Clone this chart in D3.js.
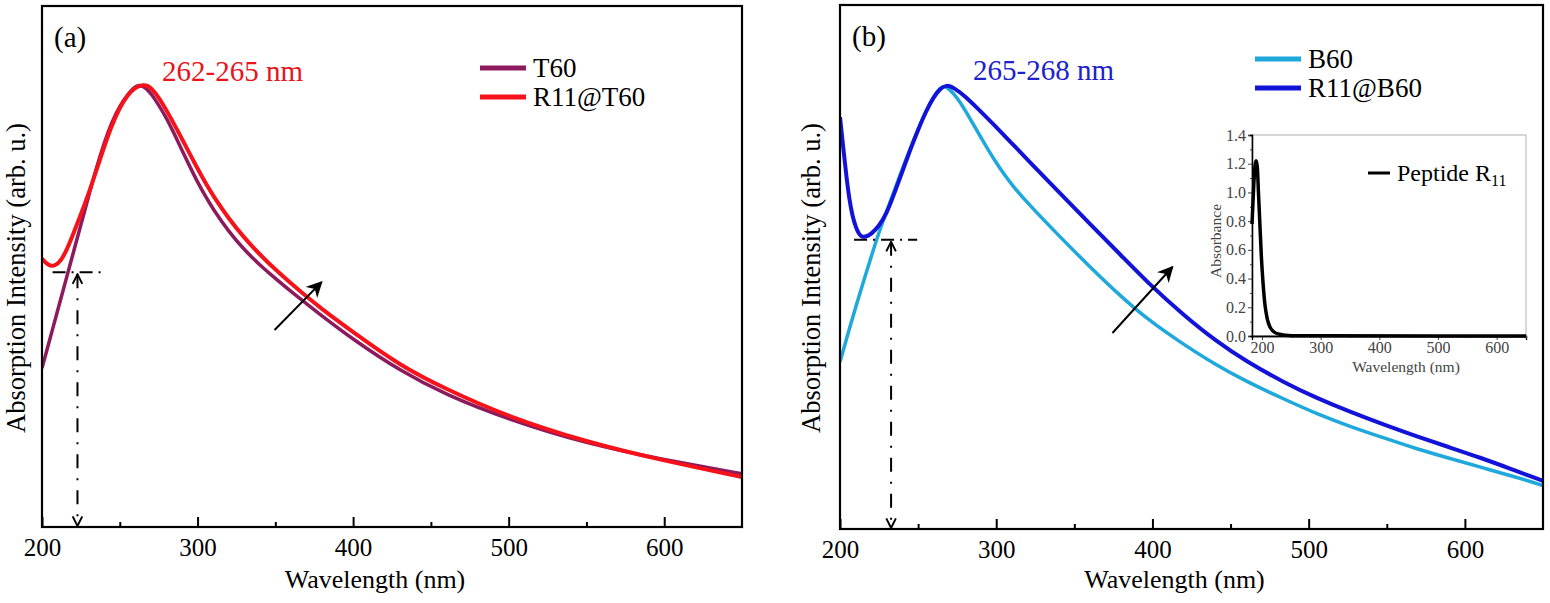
<!DOCTYPE html>
<html>
<head>
<meta charset="utf-8">
<script src="https://cdn.jsdelivr.net/npm/d3@7/dist/d3.min.js"></script>
<style>
  body { margin: 0; background: #fff; }
</style>
</head>
<body>
<svg id="chart" width="1550" height="603"></svg>
<script>
// ---- panel (a): wavelength (nm), intensity (arb. u., 0..1 of frame) ----
const t60 = [[200,.305],[205,.36],[210,.415],[215,.47],[220,.525],[225,.58],[230,.635],[235,.69],[240,.738],
  [245,.778],[250,.808],[255,.83],[259,.843],[262,.849],[266,.845],[270,.833],[275,.81],[280,.785],[285,.755],
  [290,.723],[295,.692],[300,.662],[305,.635],[310,.61],[320,.567],[330,.532],[340,.503],[350,.477],[360,.452],
  [380,.405],[400,.36],[430,.30],[460,.253],[500,.206],[550,.160],[600,.129],[650,.102]];
const r11t60 = [[200,.515],[204,.502],[208,.50],[212,.51],[216,.532],[220,.562],[225,.60],[230,.64],[235,.685],
  [240,.73],[245,.772],[250,.805],[255,.829],[260,.844],[265,.849],[268,.847],[271,.84],[275,.825],[280,.80],
  [285,.773],[290,.745],[295,.716],[300,.688],[305,.661],[310,.636],[320,.592],[330,.555],[340,.523],[350,.494],
  [366,.452],[380,.418],[400,.374],[430,.31],[460,.264],[500,.211],[550,.163],[600,.127],[650,.096]];

// ---- panel (b) ----
const b60 = [[200,.319],[205,.372],[210,.423],[215,.472],[220,.52],[225,.567],[230,.607],[235,.648],[240,.688],
  [245,.727],[250,.763],[255,.797],[260,.826],[265.4,.848],[270,.84],[275,.823],[280,.80],[285,.774],[290,.748],
  [295,.723],[300,.699],[305,.677],[310,.657],[320,.622],[340,.56],[360,.50],[380,.443],[397,.40],[415,.362],
  [441,.312],[460,.282],[484,.248],[505,.22],[526,.196],[550,.172],[569,.153],[590,.135],[611,.117],[633,.099],[650,.083]];
const r11b60 = [[200,.786],[202,.73],[204,.675],[206,.628],[208,.597],[210,.577],[212,.563],[214,.557],[217,.558],
  [220,.563],[225,.578],[230,.603],[235,.642],[240,.683],[245,.724],[250,.762],[255,.797],[260,.825],[264,.840],
  [268,.848],[273,.842],[280,.826],[289,.80],[300,.767],[310,.736],[320,.705],[340,.643],[360,.582],[380,.522],
  [397,.47],[420,.408],[441,.358],[460,.32],[484,.28],[505,.25],[526,.224],[550,.197],[569,.177],[590,.156],
  [611,.135],[630,.114],[650,.092]];

// ---- inset: peptide R11 absorbance ----
const peptide = [[183,.78],[186,1.05],[188,1.18],[190,1.22],[192,1.18],[194,1.0],[196,.82],[199,.55],[202,.36],
  [205,.22],[209,.12],[214,.06],[220,.03],[230,.012],[245,.004],[260,.002],[300,.001],[650,0]];

const majorTicks = [200, 300, 400, 500, 600];
const minorTicks = [250, 350, 450, 550];
const insetYTicks = [0, 0.2, 0.4, 0.6, 0.8, 1.0, 1.2, 1.4];
const insetYMinor = [0.1, 0.3, 0.5, 0.7, 0.9, 1.1, 1.3];

const FONT = '"Liberation Serif", "Times New Roman", Times, serif';

const svg = d3.select('#chart').attr('font-family', FONT);
const defs = svg.append('defs');

defs.append('marker').attr('id', 'headBig')
  .attr('viewBox', '0 0 10 10').attr('refX', 9).attr('refY', 5)
  .attr('markerWidth', 16).attr('markerHeight', 16).attr('markerUnits', 'userSpaceOnUse')
  .attr('orient', 'auto')
  .append('path').attr('d', 'M0,0 L10,5 L0,10 L3,5 z').attr('fill', '#000');
defs.append('marker').attr('id', 'headOpen')
  .attr('viewBox', '0 0 10 10').attr('refX', 9).attr('refY', 5)
  .attr('markerWidth', 12).attr('markerHeight', 12).attr('markerUnits', 'userSpaceOnUse')
  .attr('orient', 'auto-start-reverse')
  .append('path').attr('d', 'M1,1 L9,5 L1,9').attr('fill', 'none').attr('stroke', '#000').attr('stroke-width', 1.6);

function drawPanel(p) {
  const x = d3.scaleLinear().domain([200, 650]).range([p.left, p.right]);
  const y = d3.scaleLinear().domain([0, 1]).range([p.bottom, p.top]);
  const g = svg.append('g');

  g.append('clipPath').attr('id', 'clip-' + p.id)
    .append('rect').attr('x', p.left).attr('y', p.top)
    .attr('width', p.right - p.left).attr('height', p.bottom - p.top);

  // ticks point inward
  const xAxis = g.append('g').attr('transform', `translate(0,${p.bottom})`)
    .call(d3.axisBottom(x).tickValues(majorTicks).tickSize(-10).tickPadding(11).tickFormat(d3.format('d')));
  xAxis.attr('font-family', FONT);
  xAxis.select('.domain').remove();
  xAxis.selectAll('line').attr('stroke-width', 2);
  xAxis.selectAll('text').attr('font-size', 25).attr('fill', '#000');
  const xMinor = g.append('g').attr('transform', `translate(0,${p.bottom})`)
    .call(d3.axisBottom(x).tickValues(minorTicks).tickSize(-5).tickFormat(''));
  xMinor.select('.domain').remove();
  xMinor.selectAll('line').attr('stroke-width', 2);

  const line = d3.line().x(d => x(d[0])).y(d => y(d[1])).curve(d3.curveBasis);
  const lines = g.append('g').attr('clip-path', `url(#clip-${p.id})`);
  p.series.forEach(s => {
    lines.append('path').datum(s.data).attr('d', line)
      .attr('fill', 'none').attr('stroke', s.color).attr('stroke-width', s.width)
      .attr('stroke-linejoin', 'round');
  });

  // frame
  g.append('rect').attr('x', p.left).attr('y', p.top)
    .attr('width', p.right - p.left).attr('height', p.bottom - p.top)
    .attr('fill', 'none').attr('stroke', '#000').attr('stroke-width', 2.2);

  // dash-dot guide lines
  g.append('line')
    .attr('x1', x(p.guide.h0)).attr('x2', x(p.guide.h1))
    .attr('y1', y(p.guide.v)).attr('y2', y(p.guide.v))
    .attr('stroke', '#000').attr('stroke-width', 2).attr('stroke-dasharray', '13,6,2,6');
  g.append('line')
    .attr('x1', x(p.guide.w)).attr('x2', x(p.guide.w))
    .attr('y1', y(p.guide.v) + 2).attr('y2', y(0) - 1)
    .attr('stroke', '#000').attr('stroke-width', 2).attr('stroke-dasharray', '14,10,2,10')
    .attr('marker-start', 'url(#headOpen)').attr('marker-end', 'url(#headOpen)');

  // diagonal arrow
  g.append('line')
    .attr('x1', x(p.arrow[0][0])).attr('y1', y(p.arrow[0][1]))
    .attr('x2', x(p.arrow[1][0])).attr('y2', y(p.arrow[1][1]))
    .attr('stroke', '#000').attr('stroke-width', 2).attr('marker-end', 'url(#headBig)');

  // labels
  g.append('text').attr('x', p.left + 12).attr('y', p.top + 41)
    .attr('font-size', 29).text(p.tag);
  g.append('text').attr('x', p.peak.x).attr('y', p.top + 75)
    .attr('font-size', 29).attr('fill', p.peak.color).text(p.peak.text);
  g.append('text').attr('x', (p.left + p.right) / 2 - 17).attr('y', 588)
    .attr('text-anchor', 'middle').attr('font-size', 26).text('Wavelength (nm)');
  g.append('text')
    .attr('transform', `translate(${p.left - p.ylabOff},278) rotate(-90)`)
    .attr('text-anchor', 'middle').attr('font-size', 26.5).text('Absorption Intensity (arb. u.)');

  // legend
  p.series.forEach((s, i) => {
    const ly = p.legend.y + i * 29;
    g.append('line').attr('x1', p.legend.x).attr('x2', p.legend.x + 46)
      .attr('y1', ly).attr('y2', ly).attr('stroke', s.color).attr('stroke-width', 5);
    g.append('text').attr('x', p.legend.x + 53).attr('y', ly + 9)
      .attr('font-size', 27).text(s.name);
  });
  return {x, y};
}

drawPanel({
  id: 'a', tag: '(a)', left: 42, right: 742, top: 6, bottom: 527, ylabOff: 17,
  series: [
    {name: 'T60', data: t60, color: '#8c1a5c', width: 3.5},
    {name: 'R11@T60', data: r11t60, color: '#f5121a', width: 4}
  ],
  peak: {text: '262-265 nm', color: '#e8141c', x: 162},
  legend: {x: 480, y: 68},
  guide: {v: 0.489, h0: 206.8, h1: 239.5, w: 222.8},
  arrow: [[349.5, .378], [379.7, .470]]
});

drawPanel({
  id: 'b', tag: '(b)', left: 840, right: 1543, top: 5, bottom: 529, ylabOff: 20,
  series: [
    {name: 'B60', data: b60, color: '#1fa8dc', width: 3.5},
    {name: 'R11@B60', data: r11b60, color: '#1212d8', width: 4}
  ],
  peak: {text: '265-268 nm', color: '#2020cc', x: 973},
  legend: {x: 1255, y: 59},
  guide: {v: 0.552, h0: 209, h1: 249.4, w: 232.7},
  arrow: [[374.4, .374], [412.8, .500]]
});

// ---- inset ----
const ins = {left: 1252, right: 1526, top: 135, bottom: 336};
const ix = d3.scaleLinear().domain([183, 650]).range([ins.left, ins.right]);
const iy = d3.scaleLinear().domain([0, 1.4]).range([ins.bottom, ins.top]);
const ig = svg.append('g');
ig.append('rect').attr('x', ins.left).attr('y', ins.top)
  .attr('width', ins.right - ins.left).attr('height', ins.bottom - ins.top)
  .attr('fill', '#fff').attr('stroke', '#b0b0b0').attr('stroke-width', 1);

const ixAxis = ig.append('g').attr('transform', `translate(0,${ins.bottom})`)
  .call(d3.axisBottom(ix).tickValues(majorTicks).tickSize(4).tickPadding(2).tickFormat(d3.format('d')));
const ixMinor = ig.append('g').attr('transform', `translate(0,${ins.bottom})`)
  .call(d3.axisBottom(ix).tickValues(minorTicks.concat([650])).tickSize(2).tickFormat(''));
const iyAxis = ig.append('g').attr('transform', `translate(${ins.left},0)`)
  .call(d3.axisLeft(iy).tickValues(insetYTicks).tickSize(4).tickPadding(2).tickFormat(d3.format('.1f')));
const iyMinor = ig.append('g').attr('transform', `translate(${ins.left},0)`)
  .call(d3.axisLeft(iy).tickValues(insetYMinor).tickSize(2).tickFormat(''));
[ixAxis, ixMinor, iyAxis, iyMinor].forEach(a => {
  a.attr('font-family', FONT);
  a.select('.domain').attr('stroke', '#000').attr('stroke-width', 1.3);
  a.selectAll('line').attr('stroke', '#444');
  a.selectAll('text').attr('font-size', 16).attr('fill', '#444');
});

ig.append('path').datum(peptide)
  .attr('d', d3.line().x(d => ix(d[0])).y(d => iy(d[1])).curve(d3.curveMonotoneX))
  .attr('fill', 'none').attr('stroke', '#000').attr('stroke-width', 3.5).attr('stroke-linejoin', 'round');

ig.append('text').attr('x', 1406).attr('y', 372)
  .attr('text-anchor', 'middle').attr('font-size', 15.5).attr('fill', '#444').text('Wavelength (nm)');
ig.append('text')
  .attr('transform', 'translate(1221,241) rotate(-90)')
  .attr('text-anchor', 'middle').attr('font-size', 15.5).attr('fill', '#444').text('Absorbance');

ig.append('line').attr('x1', 1368).attr('x2', 1390).attr('y1', 173).attr('y2', 173)
  .attr('stroke', '#000').attr('stroke-width', 3);
const lt = ig.append('text').attr('x', 1397).attr('y', 181).attr('font-size', 24);
lt.append('tspan').text('Peptide R');
lt.append('tspan').attr('font-size', 16).attr('dy', 5).text('11');
</script>
</body>
</html>
